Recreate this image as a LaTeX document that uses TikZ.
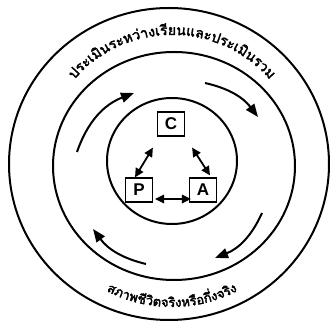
\documentclass[tikz,border=0pt]{standalone}
\usepackage{fontspec}
\newfontfamily\thaifont[Script=Thai, FakeBold=2.5]{Loma}
\newfontfamily\boxfont{Liberation Sans}
\usetikzlibrary{arrows.meta, positioning, decorations.text}
\tikzset{
    ring/.style={line width=2pt},
    letterbox/.style={rectangle, draw=black, line width=1.2pt, minimum width=27pt, minimum height=24pt, inner sep=0pt, font=\boxfont\bfseries\fontsize{17}{17}\selectfont},
    flow/.style={line width=2pt, -{Triangle[length=13pt, width=10pt]}},
    link/.style={line width=1.8pt, {Triangle[length=9pt, width=8.5pt]}-{Triangle[length=9pt, width=8.5pt]}}
}
\begin{document}
\begin{tikzpicture}[x=1pt, y=1pt]
        \useasboundingbox (0,0) rectangle (330,324);

        % Rings
        \draw[ring] (169,160) ellipse [x radius=160, y radius=156];
        \draw[ring] (174,158) ellipse [x radius=121, y radius=114];
        \draw[ring] (172,163) ellipse [x radius=65, y radius=63];

        % Ring texts
        \path[decorate, decoration={text along path, text align=center,
            text={|\thaifont\fontsize{14}{14}\selectfont|{ป}{ร}{ะ}{เ}{มิ}{น}{ร}{ะ}{ห}{ว่}{า}{ง}{เ}{รี}{ย}{น}{แ}{ล}{ะ}{ป}{ร}{ะ}{เ}{มิ}{น}{ร}{ว}{ม}}}]
            (172,160) ++(150:129pt) arc[start angle=150, end angle=30, radius=129pt];
        \path[decorate, decoration={text along path, text align=center,
            text={|\thaifont\fontsize{13}{13}\selectfont|{ส}{ภ}{า}{พ}{ชี}{วิ}{ต}{จ}{ริ}{ง}{ห}{รื}{อ}{กึ่}{ง}{จ}{ริ}{ง}}}]
            (172,160) ++(-150:143pt) arc[start angle=-150, end angle=-30, radius=143pt];

        % C, P, A
        \node[letterbox] (C) at (171,200) {C};
        \node[letterbox] (P) at (139,134) {P};
        \node[letterbox] (A) at (203,134) {A};

        \draw[link] ([shift={(-4pt,-11pt)}]C.south west) -- ([xshift=-4pt]P.north);
        \draw[link] ([shift={(7pt,-11pt)}]C.south east) -- ([shift={(7pt,2pt)}]A.north);
        \draw[link] ([shift={(2pt,-9pt)}]P.east) -- ([shift={(2pt,-9pt)}]A.west);

        % Cycle arrows
        \coordinate (ul1) at (77,172);  \coordinate (ul2) at (134,231);
        \coordinate (ur1) at (205,241); \coordinate (ur2) at (258,207);
        \coordinate (lr1) at (262,111); \coordinate (lr2) at (215,66);
        \coordinate (ll1) at (146,60);  \coordinate (ll2) at (93,95);
        \draw[flow] (ul1) to[bend left=25] (ul2);
        \draw[flow] (ur1) to[bend left=20] (ur2);
        \draw[flow] (lr1) to[bend left=22] (lr2);
        \draw[flow] (ll1) to[bend left=20] (ll2);
    \end{tikzpicture}
\end{document}
